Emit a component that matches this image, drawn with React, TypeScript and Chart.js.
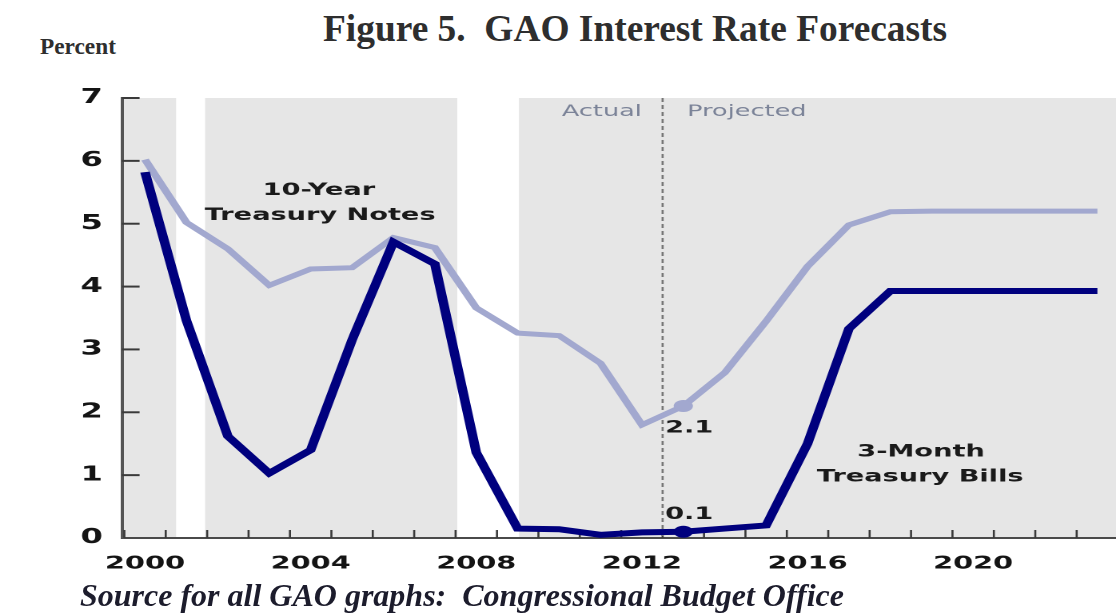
import React, { useEffect, useRef } from "react";
import { Chart, registerables } from "chart.js";

Chart.register(...registerables);

// ---------- data ----------
const years = [2000, 2001, 2002, 2003, 2004, 2005, 2006, 2007, 2008, 2009, 2010, 2011, 2012, 2013, 2014, 2015, 2016, 2017, 2018, 2019, 2020, 2021, 2022, 2023];
const tenYearNotes = [6.02, 5.02, 4.6, 4.02, 4.28, 4.3, 4.78, 4.62, 3.66, 3.26, 3.22, 2.78, 1.8, 2.1, 2.63, 3.45, 4.32, 4.98, 5.19, 5.2, 5.2, 5.2, 5.2, 5.2];
const threeMonthBills = [5.82, 3.46, 1.62, 1.03, 1.4, 3.15, 4.71, 4.36, 1.36, 0.15, 0.14, 0.05, 0.09, 0.1, 0.15, 0.2, 1.5, 3.33, 3.93, 3.93, 3.93, 3.93, 3.93, 3.93];
const xLabelYears = [2000, 2004, 2008, 2012, 2016, 2020];
const yTickValues = [0, 1, 2, 3, 4, 5, 6, 7];
const unshadedBands = [[2000.75, 2001.45], [2007.54, 2009.03]];
const projectionStart = 2012.5;
const markedYear = 2013;
const markedTenLabel = "2.1";
const markedBillLabel = "0.1";

// ---------- layout / style ----------
const CANVAS_W = 698;
const CANVAS_H = 512;
const CANVAS_TOP = 74;
const STRETCH = 1116 / CANVAS_W;
const X_MIN = 1999.444;
const X_MAX = 2023.45;
const DARK = "#00007e";
const LIGHT = "#a2a8cf";
const FONT = '"DejaVu Sans", Verdana, sans-serif';

const textNotes = [
  { text: "10-Year", x: 2004.2, y: 5.53, font: `bold 17px ${FONT}`, color: "#1a1a1a", align: "center" },
  { text: "Treasury Notes", x: 2004.23, y: 5.13, font: `bold 17px ${FONT}`, color: "#1a1a1a", align: "center" },
  { text: "3-Month", x: 2018.74, y: 1.37, font: `bold 17px ${FONT}`, color: "#1a1a1a", align: "center" },
  { text: "Treasury Bills", x: 2018.72, y: 0.97, font: `bold 17px ${FONT}`, color: "#1a1a1a", align: "center" },
  { text: markedTenLabel, x: 2012.56, y: 1.75, font: `bold 17px ${FONT}`, color: "#1a1a1a", align: "left" },
  { text: markedBillLabel, x: 2012.56, y: 0.37, font: `bold 17px ${FONT}`, color: "#1a1a1a", align: "left" },
  { text: "Actual", x: 2012.0, y: 6.78, font: `16px ${FONT}`, color: "#7b8398", align: "right" },
  { text: "Projected", x: 2013.09, y: 6.78, font: `16px ${FONT}`, color: "#7b8398", align: "left" },
];

const decorPlugin = {
  id: "decor",
  beforeDraw(chart: any) {
    const { ctx, chartArea: a, scales } = chart;
    const x = scales.x;
    ctx.save();
    ctx.fillStyle = "#e6e6e6";
    ctx.fillRect(a.left, a.top, a.right - a.left, a.bottom - a.top);
    ctx.fillStyle = "#ffffff";
    for (const [s, e] of unshadedBands) {
      const x1 = x.getPixelForValue(s);
      const x2 = x.getPixelForValue(e);
      ctx.fillRect(x1, a.top, x2 - x1, a.bottom - a.top);
    }
    ctx.restore();
  },
  beforeDatasetsDraw(chart: any) {
    const { ctx, chartArea: a, scales } = chart;
    const x = scales.x;
    const y = scales.y;
    ctx.save();
    ctx.strokeStyle = "#3a3a3a";
    ctx.lineWidth = 1.3;
    for (let b = Math.ceil(X_MIN - 0.5) + 0.5; b < X_MAX; b += 1) {
      const px = x.getPixelForValue(b);
      ctx.beginPath();
      ctx.moveTo(px, a.bottom);
      ctx.lineTo(px, a.bottom - 8);
      ctx.stroke();
    }
    ctx.lineWidth = 2;
    for (const v of yTickValues) {
      if (v === 0) continue;
      const py = y.getPixelForValue(v);
      ctx.beginPath();
      ctx.moveTo(a.left, py);
      ctx.lineTo(a.left + 11, py);
      ctx.stroke();
    }
    const dx = x.getPixelForValue(projectionStart);
    ctx.strokeStyle = "#777777";
    ctx.lineWidth = 1.3;
    ctx.setLineDash([4, 3]);
    ctx.beginPath();
    ctx.moveTo(dx, a.top);
    ctx.lineTo(dx, a.bottom);
    ctx.stroke();
    ctx.restore();
  },
  afterDatasetsDraw(chart: any) {
    const { ctx, scales } = chart;
    ctx.save();
    ctx.textBaseline = "middle";
    for (const n of textNotes) {
      ctx.font = n.font;
      ctx.fillStyle = n.color;
      ctx.textAlign = n.align as CanvasTextAlign;
      ctx.fillText(n.text, scales.x.getPixelForValue(n.x), scales.y.getPixelForValue(n.y));
    }
    ctx.restore();
  },
};

export default function App() {
  const canvasRef = useRef<HTMLCanvasElement | null>(null);

  useEffect(() => {
    if (!canvasRef.current) return;
    const mark = () => years.map((yr) => (yr === markedYear ? 6 : 0));
    const chart = new Chart(canvasRef.current, {
      type: "line",
      data: {
        datasets: [
          {
            label: "3-Month Treasury Bills",
            data: years.map((yr, i) => ({ x: yr, y: threeMonthBills[i] })),
            borderColor: DARK,
            backgroundColor: DARK,
            borderWidth: 6,
            pointRadius: mark(),
            pointHoverRadius: 0,
            pointBorderWidth: 0,
            tension: 0,
          },
          {
            label: "10-Year Treasury Notes",
            data: years.map((yr, i) => ({ x: yr, y: tenYearNotes[i] })),
            borderColor: LIGHT,
            backgroundColor: LIGHT,
            borderWidth: 5,
            pointRadius: mark(),
            pointHoverRadius: 0,
            pointBorderWidth: 0,
            tension: 0,
          },
        ],
      },
      options: {
        animation: false,
        responsive: false,
        devicePixelRatio: 2,
        layout: { padding: { top: 1, right: 0, bottom: 0, left: 0 } },
        plugins: { legend: { display: false }, tooltip: { enabled: false } },
        events: [],
        scales: {
          x: {
            type: "linear",
            min: X_MIN,
            max: X_MAX,
            afterBuildTicks: (scale: any) => {
              scale.ticks = xLabelYears.map((v) => ({ value: v }));
            },
            afterFit: (scale: any) => {
              scale.height = 48;
            },
            grid: { display: false, drawTicks: false },
            border: { display: true, color: "#4a4a4a", width: 2 },
            ticks: {
              autoSkip: false,
              maxRotation: 0,
              padding: 15,
              color: "#141414",
              font: { family: FONT, size: 18, weight: "bold" },
              callback: (v: any) => String(v),
            },
          },
          y: {
            type: "linear",
            min: 0,
            max: 7,
            afterBuildTicks: (scale: any) => {
              scale.ticks = yTickValues.map((v) => ({ value: v }));
            },
            afterFit: (scale: any) => {
              scale.width = 122 / STRETCH;
            },
            grid: { display: false, drawTicks: false },
            border: { display: true, color: "#555555", width: 2 },
            ticks: {
              padding: 12,
              color: "#141414",
              font: { family: FONT, size: 20, weight: "bold" },
              callback: (v: any) => String(v),
            },
          },
        },
      },
      plugins: [decorPlugin],
    } as any);
    return () => chart.destroy();
  }, []);

  const serif = '"Liberation Serif", "Times New Roman", serif';
  return (
    <div style={{ position: "absolute", left: 0, top: 0, width: 1116, height: 613, overflow: "hidden", background: "#fff" }}>
      <div
        style={{
          position: "absolute",
          left: 323,
          top: 10,
          fontFamily: serif,
          fontWeight: "bold",
          fontSize: 37.4,
          lineHeight: "37px",
          color: "#2e2e2e",
          whiteSpace: "pre",
        }}
      >
        {"Figure 5.  GAO Interest Rate Forecasts"}
      </div>
      <div
        style={{
          position: "absolute",
          left: 40,
          top: 35,
          fontFamily: serif,
          fontWeight: "bold",
          fontSize: 23.3,
          lineHeight: "23px",
          color: "#2e2e2e",
        }}
      >
        Percent
      </div>
      <div
        style={{
          position: "absolute",
          left: 0,
          top: CANVAS_TOP,
          width: CANVAS_W,
          height: CANVAS_H,
          transform: `scaleX(${STRETCH})`,
          transformOrigin: "0 0",
        }}
      >
        <canvas
          ref={canvasRef}
          width={CANVAS_W}
          height={CANVAS_H}
          style={{ display: "block", width: CANVAS_W, height: CANVAS_H }}
        />
      </div>
      <div
        style={{
          position: "absolute",
          left: 80,
          top: 580,
          fontFamily: serif,
          fontWeight: "bold",
          fontStyle: "italic",
          fontSize: 32,
          lineHeight: "31px",
          color: "#1c1c2c",
          whiteSpace: "pre",
        }}
      >
        {"Source for all GAO graphs:  Congressional Budget Office"}
      </div>
    </div>
  );
}
